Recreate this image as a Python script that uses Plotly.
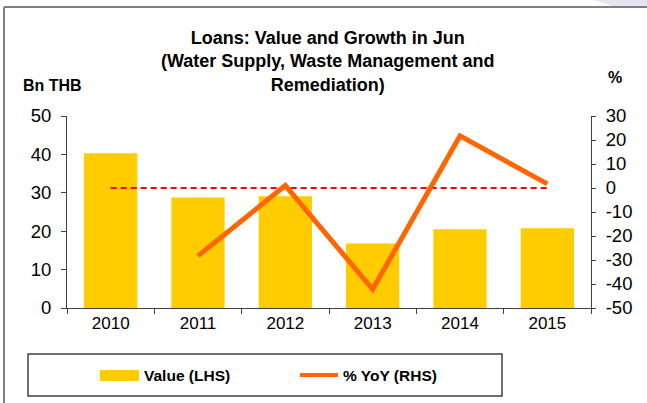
import plotly.graph_objects as go

years = ["2010", "2011", "2012", "2013", "2014", "2015"]
value_bn = [40.3, 28.8, 29.1, 16.8, 20.5, 20.8]
yoy_years = ["2011", "2012", "2013", "2014", "2015"]
yoy_pct = [-28.3, 1.0, -42.2, 21.7, 1.7]
zero_line = [0, 0, 0, 0, 0, 0]
left_ticks = [0, 10, 20, 30, 40, 50]
right_ticks = [-50, -40, -30, -20, -10, 0, 10, 20, 30]
right_tick_text = ["-50", "-40", "-30", "-20", "-10", "0", "10", "20", "30"]

W, H = 647, 403
L, R, T, B = 67, 56, 116, 95
PW = W - L - R
PH = H - T - B

def px(x):
    return (x - L) / PW

def py(y):
    return (H - B - y) / PH

FONT = "Liberation Sans, Arial, sans-serif"

fig = go.Figure()
fig.add_trace(go.Bar(x=years, y=value_bn, marker_color="#FFCC00", marker_line_width=0,
                     width=0.61, name="Value (LHS)", showlegend=False))
fig.add_trace(go.Scatter(x=years, y=zero_line, yaxis="y2", mode="lines",
                         line=dict(color="#FF0000", width=2, dash="6px,4px"), showlegend=False))
fig.add_trace(go.Scatter(x=yoy_years, y=yoy_pct, yaxis="y2", mode="lines",
                         line=dict(color="#FF6600", width=5), name="% YoY (RHS)", showlegend=False))

shapes = [
    # outer frame
    dict(type="line", xref="paper", yref="paper", x0=px(4), x1=px(660), y0=py(7), y1=py(7),
         line=dict(color="#7F7F7F", width=2)),
    dict(type="line", xref="paper", yref="paper", x0=px(4), x1=px(4), y0=py(7), y1=py(410),
         line=dict(color="#7F7F7F", width=2)),
    # top-right decoration
    dict(type="path", xref="paper", yref="paper", layer="below",
         path=f"M {px(588)},{py(-2)} L {px(648)},{py(-2)} L {px(648)},{py(6)} L {px(612)},{py(6)} Z",
         fillcolor="#E6E6F2", line=dict(width=0)),
    # legend box
    dict(type="rect", xref="paper", yref="paper", x0=px(28), x1=px(502), y0=py(354), y1=py(396),
         line=dict(color="#404040", width=1.5), fillcolor="rgba(0,0,0,0)"),
    dict(type="rect", xref="paper", yref="paper", x0=px(100), x1=px(139), y0=py(370), y1=py(381),
         line=dict(width=0), fillcolor="#FFCC00"),
    dict(type="line", xref="paper", yref="paper", x0=px(300), x1=px(338), y0=py(375), y1=py(375),
         line=dict(color="#FF6600", width=4)),
]

annotations = [
    dict(text="<b>Loans: Value and Growth in Jun<br>(Water Supply, Waste Management and<br>Remediation)</b>",
         xref="paper", yref="paper", x=px(327), y=py(61), xanchor="center", yanchor="middle",
         showarrow=False, font=dict(family=FONT, size=18, color="#000000"), align="center"),
    dict(text="<b>Bn THB</b>", xref="paper", yref="paper", x=px(21), y=py(85), xanchor="left",
         yanchor="middle", showarrow=False, font=dict(family=FONT, size=16, color="#000000")),
    dict(text="<b>%</b>", xref="paper", yref="paper", x=px(615), y=py(77), xanchor="center",
         yanchor="middle", showarrow=False, font=dict(family=FONT, size=16, color="#000000")),
    dict(text="<b>Value (LHS)</b>", xref="paper", yref="paper", x=px(142), y=py(375), xanchor="left",
         yanchor="middle", showarrow=False, font=dict(family=FONT, size=15.5, color="#000000")),
    dict(text="<b>% YoY (RHS)</b>", xref="paper", yref="paper", x=px(341), y=py(375), xanchor="left",
         yanchor="middle", showarrow=False, font=dict(family=FONT, size=15.5, color="#000000")),
]

fig.update_layout(
    width=W, height=H,
    margin=dict(l=L, r=R, t=T, b=B, pad=0),
    paper_bgcolor="#FFFFFF", plot_bgcolor="#FFFFFF",
    font=dict(family=FONT, size=16, color="#000000"),
    bargap=0.39,
    showlegend=False,
    shapes=shapes,
    annotations=annotations,
    xaxis=dict(type="category", range=[-0.5, 5.5], showgrid=False, zeroline=False,
               showline=True, linecolor="#404040", linewidth=1,
               ticks="outside", ticklen=5, tickcolor="#404040", tickson="boundaries",
               tickfont=dict(family=FONT, size=17), fixedrange=True),
    yaxis=dict(range=[0, 50], tickmode="array", tickvals=left_ticks, showgrid=False, zeroline=False,
               showline=True, linecolor="#404040", linewidth=1,
               ticks="outside", ticklen=5, tickcolor="#404040",
               tickfont=dict(family=FONT, size=18.5), ticklabelstandoff=6),
    yaxis2=dict(range=[-50, 30], tickmode="array", tickvals=right_ticks, ticktext=right_tick_text,
                overlaying="y", side="right", showgrid=False,
                zeroline=False, showline=True, linecolor="#404040", linewidth=1,
                ticks="outside", ticklen=4, tickcolor="#404040",
                tickfont=dict(family=FONT, size=18.5), ticklabelstandoff=6),
)

fig.write_html("out.html", config={"displayModeBar": False},
               post_script="document.body.style.margin='0';document.body.style.overflow='hidden';")
